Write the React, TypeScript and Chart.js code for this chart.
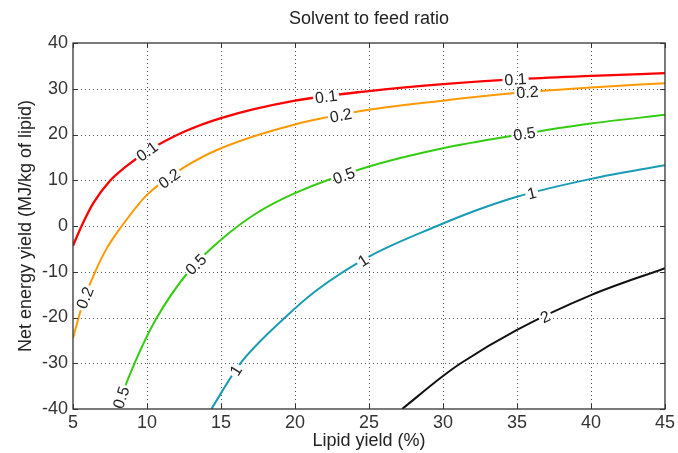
import React, { useEffect, useRef } from "react";
import { Chart, registerables } from "chart.js";

Chart.register(...registerables);

const FONT = "'Liberation Sans', Arial, Helvetica, sans-serif";

const titleText = "Solvent to feed ratio";
const xTitle = "Lipid yield (%)";
const yTitle = "Net energy yield (MJ/kg of lipid)";

const xTicks = [5, 10, 15, 20, 25, 30, 35, 40, 45];
const yTicks = [-40, -30, -20, -10, 0, 10, 20, 30, 40];

const seriesNames = ["0.1", "0.2", "0.5", "1", "2"];
const seriesColors = ["#ff0000", "#ff9900", "#33cc11", "#1a9bb5", "#111111"];

const x01 = [5, 5.58, 6.37, 7.5, 8.5, 10, 12.5, 15, 20, 25, 30, 35, 40, 45];
const y01 = [-4.3, 0, 5, 9.9, 12.8, 16.3, 20.6, 23.6, 27.4, 29.5, 31, 32.1, 32.8, 33.4];

const x02 = [5, 5.7, 6.5, 7.26, 8.3, 10, 12.5, 15, 20, 25, 30, 35, 40, 45];
const y02 = [-24.5, -16.5, -10, -5, 0, 6.8, 12.8, 17, 22.2, 25.4, 27.4, 29.1, 30.3, 31.2];

const x05 = [8, 8.3, 9.2, 10.6, 12.8, 15, 17.5, 20, 25, 30, 35, 40, 45];
const y05 = [-40, -37, -29.7, -20.4, -10, -3, 3, 7.2, 13, 17, 19.9, 22.4, 24.3];

const x1 = [14.35, 16.25, 19.4, 21.4, 25, 29.6, 32.4, 35, 40, 45];
const y1 = [-40, -30.3, -19.8, -14.2, -6.7, 0, 3.6, 6.4, 10.3, 13.3];

const x2 = [27.24, 30, 31.2, 35, 40, 45];
const y2 = [-40, -32.8, -30, -22.7, -15.1, -9.2];

const labelX01 = [10.0, 22.1, 34.9];
const labelX02 = [5.8, 11.5, 23.1, 35.7];
const labelX05 = [8.25, 13.3, 23.3, 35.5];
const labelX1 = [16.0, 24.6, 36.0];
const labelX2 = [36.9];

const seriesX = [x01, x02, x05, x1, x2];
const seriesY = [y01, y02, y05, y1, y2];
const seriesLabelX = [labelX01, labelX02, labelX05, labelX1, labelX2];

function drawGrid(chart: any, ctx: CanvasRenderingContext2D) {
  const { left, right, top, bottom } = chart.chartArea;
  const xs = chart.scales.x;
  const ys = chart.scales.y;
  ctx.save();
  ctx.strokeStyle = "#555";
  ctx.lineWidth = 1;
  ctx.setLineDash([1, 3]);
  for (const v of xTicks) {
    if (v === xTicks[0] || v === xTicks[xTicks.length - 1]) continue;
    const px = Math.round(xs.getPixelForValue(v)) + 0.5;
    ctx.beginPath();
    ctx.moveTo(px, top);
    ctx.lineTo(px, bottom);
    ctx.stroke();
  }
  for (const v of yTicks) {
    if (v === yTicks[0] || v === yTicks[yTicks.length - 1]) continue;
    const py = Math.round(ys.getPixelForValue(v)) + 0.5;
    ctx.beginPath();
    ctx.moveTo(left, py);
    ctx.lineTo(right, py);
    ctx.stroke();
  }
  ctx.restore();
}

function labelGeometry(chart: any, sx: number[], sy: number[], lx: number) {
  const xs = chart.scales.x;
  const ys = chart.scales.y;
  let i = 0;
  while (i < sx.length - 2 && sx[i + 1] < lx) i++;
  const t = (lx - sx[i]) / (sx[i + 1] - sx[i]);
  const ly = sy[i] + t * (sy[i + 1] - sy[i]);
  const dx = xs.getPixelForValue(sx[i + 1]) - xs.getPixelForValue(sx[i]);
  const dy = ys.getPixelForValue(sy[i + 1]) - ys.getPixelForValue(sy[i]);
  let ang = Math.atan2(dy, dx);
  if (ang > Math.PI / 2) ang -= Math.PI;
  if (ang < -Math.PI / 2) ang += Math.PI;
  return { px: xs.getPixelForValue(lx), py: ys.getPixelForValue(ly), ang };
}

const gridPlugin = {
  id: "matlabGrid",
  beforeDatasetsDraw(chart: any) {
    drawGrid(chart, chart.ctx);
  },
  afterDatasetsDraw(chart: any) {
    const ctx: CanvasRenderingContext2D = chart.ctx;
    const { left, right, top, bottom } = chart.chartArea;
    ctx.save();
    ctx.font = `16px ${FONT}`;
    const items: any[] = [];
    seriesLabelX.forEach((arr, si) => {
      arr.forEach((lx) => {
        const g = labelGeometry(chart, seriesX[si], seriesY[si], lx);
        const w = ctx.measureText(seriesNames[si]).width;
        items.push({ ...g, w, text: seriesNames[si] });
      });
    });
    const path = new Path2D();
    for (const it of items) {
      const c = Math.cos(it.ang), s = Math.sin(it.ang);
      const hw = it.w / 2 + 2, hh = 7;
      const pts = [
        [-hw, -hh], [hw, -hh], [hw, hh], [-hw, hh],
      ].map(([a, b]) => [it.px + a * c - b * s, it.py + a * s + b * c]);
      path.moveTo(pts[0][0], pts[0][1]);
      for (let k = 1; k < 4; k++) path.lineTo(pts[k][0], pts[k][1]);
      path.closePath();
    }
    ctx.save();
    ctx.beginPath();
    ctx.rect(left, top, right - left, bottom - top);
    ctx.clip();
    ctx.fillStyle = "#ffffff";
    ctx.fill(path);
    ctx.clip(path);
    drawGrid(chart, ctx);
    ctx.restore();
    ctx.fillStyle = "#222";
    ctx.textAlign = "center";
    ctx.textBaseline = "middle";
    for (const it of items) {
      ctx.save();
      ctx.translate(it.px, it.py);
      ctx.rotate(it.ang);
      ctx.fillText(it.text, 0, 1);
      ctx.restore();
    }
    ctx.restore();
  },
  afterDraw(chart: any) {
    const ctx: CanvasRenderingContext2D = chart.ctx;
    const { left, right, top, bottom } = chart.chartArea;
    const xs = chart.scales.x;
    const ys = chart.scales.y;
    ctx.save();
    ctx.strokeStyle = "#333";
    ctx.lineWidth = 1.3;
    ctx.strokeRect(left, top, right - left, bottom - top);
    ctx.lineWidth = 1;
    const tl = 5;
    for (const v of xTicks) {
      const px = Math.round(xs.getPixelForValue(v)) + 0.5;
      ctx.beginPath();
      ctx.moveTo(px, bottom);
      ctx.lineTo(px, bottom - tl);
      ctx.moveTo(px, top);
      ctx.lineTo(px, top + tl);
      ctx.stroke();
    }
    for (const v of yTicks) {
      const py = Math.round(ys.getPixelForValue(v)) + 0.5;
      ctx.beginPath();
      ctx.moveTo(left, py);
      ctx.lineTo(left + tl, py);
      ctx.moveTo(right, py);
      ctx.lineTo(right - tl, py);
      ctx.stroke();
    }
    // title centred over the plot area
    ctx.fillStyle = "#222";
    ctx.font = `18px ${FONT}`;
    ctx.textAlign = "center";
    ctx.textBaseline = "middle";
    ctx.fillText(titleText, (left + right) / 2, 19);
    ctx.restore();
  },
};

export default function App() {
  const ref = useRef<HTMLCanvasElement | null>(null);
  useEffect(() => {
    document.body.style.margin = "0";
    const canvas = ref.current;
    if (!canvas) return;
    const datasets = seriesNames.map((name, i) => ({
      label: name,
      data: seriesX[i].map((x, k) => ({ x, y: seriesY[i][k] })),
      borderColor: seriesColors[i],
      backgroundColor: seriesColors[i],
      borderWidth: i === 0 ? 2.3 : 2,
      pointRadius: 0,
      fill: false,
      cubicInterpolationMode: "monotone" as const,
    }));
    const tickFont = { family: FONT, size: 18 };
    const chart = new Chart(canvas, {
      type: "line",
      data: { datasets },
      options: {
        animation: false,
        responsive: false,
        maintainAspectRatio: false,
        layout: { padding: { left: 0, right: 11, top: 43, bottom: 0 } },
        plugins: {
          legend: { display: false },
          tooltip: { enabled: false },
          title: { display: false },
        },
        scales: {
          x: {
            type: "linear",
            min: 5,
            max: 45,
            afterBuildTicks: (s: any) => {
              s.ticks = xTicks.map((v) => ({ value: v }));
            },
            afterFit: (s: any) => {
              s.height = 44;
            },
            grid: { display: false, drawTicks: false },
            border: { display: false },
            ticks: { color: "#333", font: tickFont, padding: 3, maxRotation: 0, autoSkip: false },
            title: {
              display: true,
              text: xTitle,
              color: "#222",
              font: { family: FONT, size: 18 },
              padding: { top: 0, bottom: 1 },
            },
          },
          y: {
            type: "linear",
            min: -40,
            max: 40,
            afterBuildTicks: (s: any) => {
              s.ticks = yTicks.map((v) => ({ value: v }));
            },
            afterFit: (s: any) => {
              s.width = 73;
            },
            grid: { display: false, drawTicks: false },
            border: { display: false },
            ticks: { color: "#333", font: tickFont, padding: 5, autoSkip: false },
            title: {
              display: true,
              text: yTitle,
              color: "#222",
              font: { family: FONT, size: 18 },
              padding: { top: 15, bottom: 0 },
            },
          },
        },
      } as any,
      plugins: [gridPlugin],
    });
    return () => chart.destroy();
  }, []);
  return (
    <div style={{ width: 678, height: 453, background: "#fff" }}>
      <canvas ref={ref} width={678} height={453} style={{ display: "block" }} />
    </div>
  );
}
